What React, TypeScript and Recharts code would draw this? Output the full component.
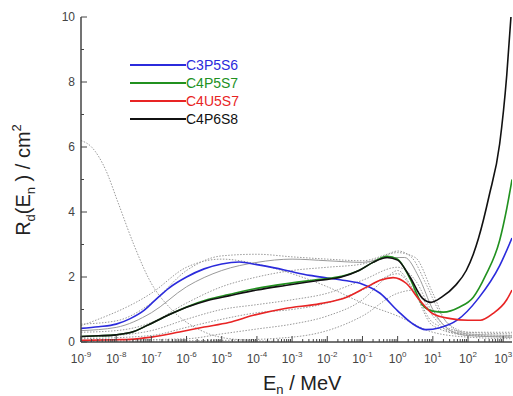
import React from "react";
import { LineChart, Line, XAxis, YAxis } from "recharts";

// log10(E / MeV) on x, R_d in cm^2 on y
const X_MIN = -9;
const X_MAX = 3.25;
const DECADES = [-9, -8, -7, -6, -5, -4, -3, -2, -1, 0, 1, 2, 3];
const Y_TICKS = [0, 1, 2, 3, 4, 5, 6, 7, 8, 9, 10];

const blueE = [-9, -8.5, -8, -7.6, -7.2, -6.9, -6.5, -6, -5.5, -5, -4.5, -4, -3.5, -3, -2.5, -2, -1.5, -1, -0.5, 0, 0.4, 0.8, 1.2, 1.7, 2.3, 2.9, 3.25];
const blueR = [0.42, 0.47, 0.55, 0.72, 0.98, 1.28, 1.66, 2.0, 2.25, 2.4, 2.46, 2.38, 2.28, 2.16, 2.05, 1.97, 1.89, 1.78, 1.5, 0.96, 0.58, 0.38, 0.44, 0.68, 1.35, 2.35, 3.2];

const greenE = [-9, -8.5, -8, -7.5, -7.1, -6.5, -6, -5.4, -4.8, -4, -3.2, -2.2, -1.6, -1.1, -0.7, -0.3, 0, 0.35, 0.7, 1.0, 1.3, 1.75, 2.15, 2.5, 2.9, 3.1, 3.25];
const greenR = [0.17, 0.19, 0.22, 0.32, 0.52, 0.84, 1.08, 1.31, 1.46, 1.65, 1.79, 1.93, 2.02, 2.2, 2.45, 2.64, 2.55, 1.95, 1.15, 0.95, 0.92, 1.07, 1.38, 2.05, 3.13, 4.1, 5.0];

const redE = [-9, -8, -7.6, -7, -6.2, -5.5, -4.8, -4.1, -3.2, -2.2, -1.45, -0.9, -0.5, -0.13, 0.25, 0.63, 1.0, 1.5, 2.0, 2.35, 2.7, 3.1, 3.25];
const redR = [0.05, 0.07, 0.08, 0.15, 0.31, 0.46, 0.6, 0.82, 1.03, 1.18, 1.38, 1.68, 1.9, 1.98, 1.8, 1.28, 0.87, 0.72, 0.67, 0.67, 0.87, 1.3, 1.6];

const blackE = [-9, -8.5, -8, -7.5, -7.1, -6.5, -6, -5.4, -4.8, -4, -3.2, -2.2, -1.6, -1.1, -0.7, -0.3, 0, 0.35, 0.7, 0.95, 1.25, 1.65, 1.95, 2.15, 2.3, 2.6, 2.9, 3.1, 3.22];
const blackR = [0.17, 0.19, 0.22, 0.32, 0.52, 0.84, 1.07, 1.28, 1.42, 1.6, 1.74, 1.9, 2.0, 2.2, 2.45, 2.6, 2.52, 2.0, 1.35, 1.22, 1.38, 1.75, 2.2, 2.7, 3.2, 4.5, 6.1, 8.2, 10];

// grey reference curves behind the four named ones
const g1E = [-9, -8.7, -8.3, -7.95, -7.5, -7.05, -6.4, -5.6, -5.05, -4.2, -3.5];
const g1R = [6.2, 6.0, 5.3, 4.3, 3.0, 1.9, 0.97, 0.36, 0.15, 0.05, 0.02];
const g2E = [-9, -8, -7, -6, -5, -4, -3, -2, -1, -0.3, 0, 0.4, 0.8, 1.2, 1.6, 2, 3.25];
const g2R = [0.55, 0.65, 1.2, 2.2, 2.65, 2.7, 2.62, 2.55, 2.5, 2.7, 2.8, 2.6, 1.8, 0.9, 0.4, 0.25, 0.2];
const g3E = [-9, -8, -7, -6, -5, -4, -3, -2, -1, -0.2, 0.2, 0.6, 1, 1.5, 2, 3.25];
const g3R = [0.35, 0.45, 0.9, 1.7, 2.2, 2.45, 2.55, 2.5, 2.45, 2.6, 2.6, 2.0, 1.0, 0.35, 0.2, 0.15];
const g4E = [-9, -8, -7, -6, -5, -4, -3, -2, -1, 0, 0.5, 1, 1.4, 2, 3.25];
const g4R = [0.3, 0.35, 0.6, 1.2, 1.7, 2.0, 2.2, 2.3, 2.4, 2.75, 2.6, 1.5, 0.6, 0.3, 0.25];
const g5E = [-9, -8, -7, -6, -5, -4, -3, -2, -1, 0, 0.5, 1, 1.5, 2, 3.25];
const g5R = [0.15, 0.2, 0.35, 0.7, 1.0, 1.15, 1.3, 1.5, 1.9, 2.3, 1.9, 0.9, 0.4, 0.3, 0.3];
const g6E = [-9, -7, -6, -5, -4, -3, -2, -1, 0, 0.5, 1, 2, 3.25];
const g6R = [0.1, 0.2, 0.45, 0.7, 0.9, 1.0, 1.2, 1.6, 2.1, 1.5, 0.6, 0.25, 0.2];
const g7E = [-9, -6, -5, -4, -3, -2, -1, -0.3, 0, 0.4, 1, 2, 3.25];
const g7R = [0.05, 0.1, 0.25, 0.4, 0.55, 0.8, 1.3, 2.0, 2.2, 1.7, 0.5, 0.2, 0.15];
const g8E = [-9, -5, -3, -2, -1, 0, 0.5, 1, 1.5, 3.25];
const g8R = [0.02, 0.05, 0.15, 0.35, 0.8, 1.5, 1.6, 0.8, 0.3, 0.15];
const g9E = [-9, -7, -6, -5, -4, -3, -2, -1, 0, 1, 2, 3.25];
const g9R = [0.5, 1.5, 2.3, 2.55, 2.4, 2.1, 1.7, 1.2, 0.8, 0.3, 0.15, 0.1];

const zip = (es: number[], rs: number[]) => es.map((e, i) => ({ e, r: rs[i] }));

const SERIES = [
  { name: "C3P5S6", color: "#2b2bdc", data: zip(blueE, blueR) },
  { name: "C4P5S7", color: "#21911f", data: zip(greenE, greenR) },
  { name: "C4U5S7", color: "#e82424", data: zip(redE, redR) },
  { name: "C4P6S8", color: "#111111", data: zip(blackE, blackR) },
];

const GREYS = [
  { data: zip(g1E, g1R), dash: "1.5 1.5" },
  { data: zip(g2E, g2R), dash: "1.5 1.5" },
  { data: zip(g3E, g3R), dash: undefined },
  { data: zip(g4E, g4R), dash: "1.5 1.5" },
  { data: zip(g5E, g5R), dash: "1.5 1.5" },
  { data: zip(g6E, g6R), dash: "1.5 1.5" },
  { data: zip(g7E, g7R), dash: "1.5 1.5" },
  { data: zip(g8E, g8R), dash: "1.5 1.5" },
  { data: zip(g9E, g9R), dash: "1.5 1.5" },
];

const AXIS = "#444";
const FONT = "'Liberation Sans', Arial, sans-serif";

// major + log minor ticks, in log10 units
const X_TICKS = DECADES.flatMap((d) =>
  [1, 2, 3, 4, 5, 6, 7, 8, 9].map((k) => d + Math.log10(k))
).filter((v) => v <= X_MAX + 1e-9);

const isMajor = (v: number) => Math.abs(v - Math.round(v)) < 1e-6;

function BottomTick({ x, y, payload }: any) {
  const v = payload.value;
  const major = isMajor(v);
  return (
    <g>
      <line x1={x} x2={x} y1={y} y2={y - (major ? 6 : 3)} stroke={AXIS} />
      {major && (
        <text x={x} y={y + 21} textAnchor="middle" fontFamily={FONT} fontSize={12} fill="#444">
          10
          <tspan fontSize={8} dy={-6}>{Math.round(v)}</tspan>
        </text>
      )}
    </g>
  );
}

function TopTick({ x, y, payload }: any) {
  const major = isMajor(payload.value);
  return <line x1={x} x2={x} y1={y} y2={y + (major ? 6 : 3)} stroke={AXIS} />;
}

function LeftTick({ x, y, payload }: any) {
  const v = payload.value;
  const major = v % 2 === 0;
  return (
    <g>
      <line x1={x} x2={x + (major ? 6 : 3)} y1={y} y2={y} stroke={AXIS} />
      {major && (
        <text x={x - 6} y={y + 4} textAnchor="end" fontFamily={FONT} fontSize={12} fill="#444">
          {v}
        </text>
      )}
    </g>
  );
}

function YTitle() {
  return (
    <text x={30} y={180} transform="rotate(-90, 30, 180)" textAnchor="middle" fontFamily={FONT} fontSize={20} fill="#222">
      R<tspan fontSize={13} dy={5}>d</tspan>
      <tspan dy={-5}>(E</tspan>
      <tspan fontSize={13} dy={5}>n</tspan>
      <tspan dy={-5}> ) / cm</tspan>
      <tspan fontSize={13} dy={-9}>2</tspan>
    </text>
  );
}

function XTitle() {
  return (
    <text x={263} y={390} fontFamily={FONT} fontSize={20} fill="#222">
      E<tspan fontSize={13} dy={4}>n</tspan>
      <tspan dy={-4}> / MeV</tspan>
    </text>
  );
}

function LegendBox() {
  return (
    <div style={{ position: "absolute", left: 130, top: 56, fontFamily: FONT, fontSize: 14 }}>
      {SERIES.map((s) => (
        <div key={s.name} style={{ display: "flex", alignItems: "center", height: 18 }}>
          <div style={{ width: 56, height: 2, background: s.color }} />
          <span style={{ color: s.color, lineHeight: "18px" }}>{s.name}</span>
        </div>
      ))}
    </div>
  );
}

export default function App() {
  return (
    <div style={{ position: "absolute", left: 0, top: 0, width: 513, height: 396, background: "#fff" }}>
      <LineChart width={513} height={396} margin={{ top: 17, right: 1, bottom: 0, left: 0 }}>
        <XAxis
          dataKey="e"
          type="number"
          domain={[X_MIN, X_MAX]}
          ticks={X_TICKS}
          interval={0}
          allowDataOverflow
          height={54}
          tickSize={0}
          tickMargin={0}
          tickLine={false}
          axisLine={{ stroke: AXIS, strokeWidth: 1.5 }}
          tick={<BottomTick />}
          label={<XTitle />}
        />
        <XAxis
          xAxisId="top"
          orientation="top"
          dataKey="e"
          type="number"
          domain={[X_MIN, X_MAX]}
          ticks={X_TICKS}
          interval={0}
          allowDataOverflow
          height={0}
          tickSize={0}
          tickMargin={0}
          tickLine={false}
          axisLine={{ stroke: AXIS, strokeWidth: 1.5 }}
          tick={<TopTick />}
        />
        <YAxis
          type="number"
          domain={[0, 10]}
          ticks={Y_TICKS}
          interval={0}
          allowDataOverflow
          width={81}
          tickSize={0}
          tickMargin={0}
          tickLine={false}
          axisLine={{ stroke: AXIS, strokeWidth: 1.5 }}
          tick={<LeftTick />}
          label={<YTitle />}
        />
        {GREYS.map((g, i) => (
          <Line
            key={`g${i}`}
            data={g.data}
            dataKey="r"
            type="monotone"
            stroke="#9a9a9a"
            strokeWidth={1}
            strokeDasharray={g.dash}
            dot={false}
            legendType="none"
            isAnimationActive={false}
          />
        ))}
        {SERIES.map((s) => (
          <Line
            key={s.name}
            data={s.data}
            dataKey="r"
            name={s.name}
            type="monotone"
            stroke={s.color}
            strokeWidth={1.6}
            dot={false}
            isAnimationActive={false}
          />
        ))}
      </LineChart>
      <LegendBox />
    </div>
  );
}
